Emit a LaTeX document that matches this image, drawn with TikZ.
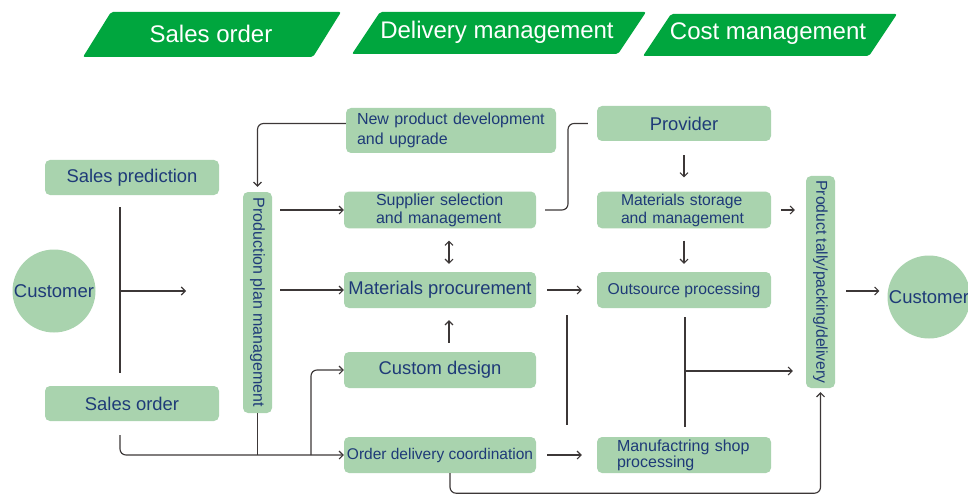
\documentclass[tikz,border=0pt]{standalone}
\usepackage{fontspec}
\setmainfont{Liberation Sans}
\usetikzlibrary{arrows.meta,calc}
\definecolor{boxg}{RGB}{169,211,174}
\definecolor{hdrg}{RGB}{0,166,62}
\definecolor{txtb}{RGB}{30,58,120}
\definecolor{linec}{RGB}{60,55,55}
\begin{document}
\begin{tikzpicture}[x=1pt,y=-1pt,
  box/.style={fill=boxg, rounded corners=5pt, text=txtb, inner sep=2pt, align=center},
  big/.style={font=\fontsize{18.4}{20}\selectfont},
  hdrtext/.style={text=white, font=\fontsize{24}{26}\selectfont},
  conn/.style={draw=linec, line width=1.15pt},
  arr/.style={conn, -{Straight Barb[length=4pt,width=8pt,line width=1.1pt]}},
  darr/.style={conn, {Straight Barb[length=4pt,width=8pt,line width=1.1pt]}-{Straight Barb[length=4pt,width=8pt,line width=1.1pt]}},
  cust/.style={circle, fill=boxg, minimum size=83pt, inner sep=0pt, text=txtb, font=\fontsize{18.5}{20}\selectfont},
]
\useasboundingbox (0,0) rectangle (968,497);

% header banners
\fill[hdrg, rounded corners=2pt] (83,57) -- (111,12) -- (341,12) -- (313,57) -- cycle;
\node[hdrtext] (h1) at (211,34) {Sales order};
\fill[hdrg, rounded corners=2pt] (352,54) -- (380,12) -- (646,12) -- (618,54) -- cycle;
\node[hdrtext] (h2) at (497,32) {Delivery management};
\fill[hdrg, rounded corners=2pt] (643,56) -- (671,14) -- (897,14) -- (869,56) -- cycle;
\node[hdrtext] (h3) at (768,34) {Cost management};

% nodes
\node[box,big,minimum width=174pt,minimum height=35pt] (sp) at (132,177.5) {Sales prediction};
\node[box,big,minimum width=174pt,minimum height=35pt] (so) at (132,403.5) {Sales order};
\node[cust] (c1) at (54,291) {Customer};
\node[cust] (c2) at (929,297) {Customer};
\node[box,rotate=-90,font=\fontsize{16}{18}\selectfont,minimum width=221pt,minimum height=29pt] (prod) at (257.5,302.5) {Production plan management};

\node[box,font=\fontsize{16}{20}\selectfont,minimum width=210pt,minimum height=45pt,text width=188pt,align=left] (np) at (451,130.5) {New product development\\and upgrade};
\node[box,font=\fontsize{16}{18}\selectfont,minimum width=192pt,minimum height=36pt,text width=128pt,align=left] (sup) at (440,210) {Supplier selection\\and management};
\node[box,big,minimum width=192pt,minimum height=36pt] (mp) at (440,290) {Materials procurement};
\node[box,big,minimum width=192pt,minimum height=36pt] (cd) at (440,370) {Custom design};
\node[box,font=\fontsize{15.5}{18}\selectfont,minimum width=192pt,minimum height=36pt,inner sep=1pt] (odc) at (440,455) {Order delivery coordination};

\node[box,big,minimum width=174pt,minimum height=35pt] (prov) at (684,123.5) {Provider};
\node[box,font=\fontsize{15.7}{18}\selectfont,minimum width=174pt,minimum height=36pt,text width=126pt,align=left] (ms) at (684,210) {Materials storage\\and management};
\node[box,font=\fontsize{15.7}{18}\selectfont,minimum width=174pt,minimum height=36pt] (op) at (684,290) {Outsource processing};
\node[box,font=\fontsize{16}{14.5}\selectfont,minimum width=174pt,minimum height=36pt,text width=134pt,align=left] (msp) at (684,455) {Manufactring shop\\processing};
\node[box,rotate=-90,font=\fontsize{15.7}{18}\selectfont,minimum width=212pt,minimum height=29pt] (ptd) at (820.5,282) {Product tally/packing/delivery};

% helper coordinates
\coordinate (j1) at (120,291);
\coordinate (a1) at (186,291);
\coordinate (j2) at (311,455);
\coordinate (v1) at (567,315);
\coordinate (v2) at (567,425);
\coordinate (j3) at (685,371);
\coordinate (k1) at (568,210);

% connectors
\draw[conn] ([xshift=-12pt,yshift=-12pt]sp.south) -- ([xshift=-12pt,yshift=13pt]so.north);
\draw[arr] (j1) -- (a1);
\draw[arr, rounded corners=6pt] ([xshift=-12pt,yshift=-14pt]so.south) |- (odc.west);
\draw[conn] (prod.east) -- (prod.east |- odc.west);
\draw[arr, rounded corners=6pt] (j2) |- (cd.west);
\draw[arr, rounded corners=6pt] ([yshift=7pt]np.west) -| ([yshift=5pt]prod.west);
\draw[arr, shorten <=8pt] (prod.north |- sup.west) -- (sup.west);
\draw[arr, shorten <=8pt] (prod.north |- mp.west) -- (mp.west);
\draw[darr] ([xshift=9pt,yshift=-12pt]sup.south) -- ([xshift=9pt,yshift=8pt]mp.north);
\draw[arr] ([xshift=9pt,yshift=9pt]cd.north) -- ([xshift=9pt,yshift=-12pt]mp.south);
\draw[conn, rounded corners=6pt] ([xshift=9pt]sup.east) -- (k1) |- ([xshift=-9pt]prov.west);
\draw[arr] ([yshift=-14pt]prov.south) -- ([yshift=14pt]ms.north);
\draw[arr] ([yshift=-12pt]ms.south) -- ([yshift=8pt]op.north);
\draw[arr, shorten <=11pt, shorten >=15pt] (mp.east) -- (op.west);
\draw[arr, shorten <=11pt, shorten >=15pt] (odc.east) -- (msp.west);
\draw[conn] (v1) -- (v2);
\draw[conn] ([xshift=1pt,yshift=-9pt]op.south) -- ([xshift=1pt,yshift=10pt]msp.north);
\draw[arr, shorten >=13pt] (j3) -- (ptd.south |- j3);
\draw[arr, shorten <=10pt, shorten >=11pt] (ms.east) -- (ptd.south |- ms.east);
\draw[arr, shorten <=11pt, shorten >=8pt] (ptd.north |- c1.east) -- (c2.west |- c1.east);
\draw[arr, rounded corners=6pt] ([xshift=10pt]odc.south) -- ++(0,20) -| ([yshift=-4pt]ptd.east);
\end{tikzpicture}
\end{document}
